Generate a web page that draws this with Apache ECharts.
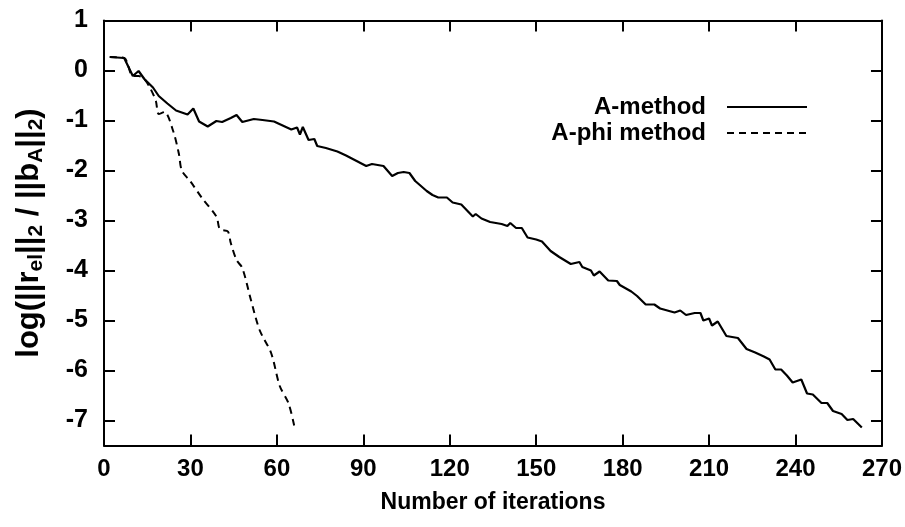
<!DOCTYPE html>
<html>
<head>
<meta charset="utf-8">
<script src="https://cdn.jsdelivr.net/npm/echarts@6/dist/echarts.min.js"></script>
<style>
html,body{margin:0;padding:0;background:#fff;}
#chart{width:905px;height:527px;}
</style>
</head>
<body>
<div id="chart"></div>
<script>
// Data
const xTicks = [0, 30, 60, 90, 120, 150, 180, 210, 240, 270];
const yTicks = [-7, -6, -5, -4, -3, -2, -1, 0, 1];

const aMethodX = [2, 7, 10, 12, 14, 17, 19, 22, 25, 29, 31, 33, 36, 39, 41, 44, 46, 48, 52, 55, 59, 62, 65, 67, 68, 69, 71, 73, 74, 77, 81, 84, 88, 91, 93, 97, 100, 102, 104, 106, 108, 112, 114, 116, 119, 121, 124, 128, 129, 131, 134, 138, 140, 141, 143, 145, 147, 150, 152, 155, 158, 162, 165, 166, 169, 170, 172, 175, 178, 179, 183, 185, 188, 191, 193, 198, 200, 202, 205, 207, 208, 210, 211, 213, 216, 220, 223, 226, 229, 231, 233, 235, 237, 239, 242, 244, 246, 249, 251, 253, 256, 258, 260, 263];
const aMethodY = [0.27, 0.25, -0.11, -0.01, -0.17, -0.34, -0.51, -0.66, -0.80, -0.88, -0.76, -1.02, -1.12, -1.01, -1.03, -0.95, -0.89, -1.03, -0.97, -0.99, -1.02, -1.10, -1.18, -1.14, -1.28, -1.13, -1.39, -1.37, -1.51, -1.55, -1.62, -1.70, -1.82, -1.91, -1.87, -1.91, -2.11, -2.05, -2.03, -2.05, -2.21, -2.41, -2.49, -2.54, -2.54, -2.64, -2.68, -2.92, -2.87, -2.96, -3.03, -3.07, -3.11, -3.05, -3.15, -3.15, -3.34, -3.38, -3.42, -3.61, -3.73, -3.87, -3.83, -3.93, -4.00, -4.10, -4.02, -4.20, -4.21, -4.29, -4.42, -4.51, -4.68, -4.68, -4.76, -4.84, -4.80, -4.89, -4.85, -4.85, -5.00, -4.96, -5.10, -5.02, -5.31, -5.35, -5.57, -5.64, -5.72, -5.78, -5.98, -5.98, -6.10, -6.24, -6.18, -6.46, -6.48, -6.65, -6.65, -6.81, -6.87, -6.99, -6.97, -7.14];

const aPhiX = [2, 7, 10, 12, 14, 16, 18, 19, 21, 24, 26, 27, 30, 34, 39, 40, 41, 43, 44, 46, 48, 51, 54, 58, 61, 64, 66];
const aPhiY = [0.27, 0.25, -0.11, -0.11, -0.17, -0.35, -0.61, -0.87, -0.83, -1.21, -1.67, -2.00, -2.22, -2.55, -2.92, -3.15, -3.19, -3.22, -3.45, -3.79, -3.95, -4.59, -5.19, -5.65, -6.31, -6.65, -7.10];

const seriesNames = ['A-method', 'A-phi method'];

const zip = (xs, ys) => xs.map((x, i) => [x, ys[i]]);

const FONT = 'Liberation Sans';
const axisLine = {show: true, onZero: false, lineStyle: {color: '#000', width: 2}};
const tick = {show: true, inside: true, length: 11, lineStyle: {color: '#000', width: 2}};
const legendText = {fontFamily: FONT, fontSize: 24, fontWeight: 'bold', color: '#000', padding: [0, 16, 0, 0]};
const legendItem = {color: 'rgba(0,0,0,0)', borderWidth: 0, opacity: 0};

const chart = echarts.init(document.getElementById('chart'), null, {renderer: 'canvas'});
chart.setOption({
  backgroundColor: '#fff',
  animation: false,
  grid: {left: 104, right: 21, top: 20.5, bottom: 81.5, containLabel: false},
  legend: [
    {
      data: [seriesNames[0]],
      right: 92, top: 90, align: 'right',
      itemWidth: 80, itemHeight: 20,
      itemStyle: legendItem,
      textStyle: legendText
    },
    {
      data: [seriesNames[1]],
      right: 92, top: 116, align: 'right',
      itemWidth: 80, itemHeight: 20,
      itemStyle: legendItem,
      textStyle: legendText
    }
  ],
  xAxis: [
    {
      type: 'value', min: 0, max: 270, interval: 30, position: 'bottom',
      name: 'Number of iterations', nameLocation: 'middle', nameGap: 46,
      nameTextStyle: {fontFamily: FONT, fontSize: 23, fontWeight: 'bold', color: '#000'},
      axisLine: axisLine, axisTick: tick,
      axisLabel: {fontFamily: FONT, fontSize: 24, fontWeight: 'bold', color: '#000', margin: 12,
        customValues: xTicks},
      splitLine: {show: false}
    },
    {
      type: 'value', min: 0, max: 270, interval: 30, position: 'top',
      axisLine: axisLine, axisTick: tick, axisLabel: {show: false}, splitLine: {show: false}
    }
  ],
  yAxis: [
    {
      type: 'value', min: -7.5, max: 1, position: 'left',
      name: 'log(||r{s|el}||{s|2} / ||b{s|A}||{s|2})', nameLocation: 'middle', nameGap: 57, nameRotate: 90,
      nameTextStyle: {fontFamily: FONT, fontSize: 31, fontWeight: 'bold', color: '#000', lineHeight: 36,
        rich: {s: {fontFamily: FONT, fontSize: 21, fontWeight: 'bold', color: '#000', verticalAlign: 'bottom', lineHeight: 36, padding: [13, 0, 0, 0]}}},
      axisLine: axisLine,
      axisTick: Object.assign({}, tick, {customValues: yTicks}),
      axisLabel: {fontFamily: FONT, fontSize: 25, fontWeight: 'bold', color: '#000', margin: 16, customValues: yTicks},
      splitLine: {show: false}
    },
    {
      type: 'value', min: -7.5, max: 1, position: 'right',
      axisLine: axisLine,
      axisTick: Object.assign({}, tick, {customValues: yTicks}),
      axisLabel: {show: false}, splitLine: {show: false}
    }
  ],
  series: [
    {
      name: seriesNames[0], type: 'line', xAxisIndex: 0, yAxisIndex: 0,
      data: zip(aMethodX, aMethodY), showSymbol: false, symbol: 'none',
      lineStyle: {color: '#000', width: 2.2, type: 'solid'}, itemStyle: {color: '#000'}
    },
    {
      name: seriesNames[1], type: 'line', xAxisIndex: 0, yAxisIndex: 0,
      data: zip(aPhiX, aPhiY), showSymbol: false, symbol: 'none', smooth: 0.3,
      lineStyle: {color: '#000', width: 2, type: [7, 5]}, itemStyle: {color: '#000'}
    }
  ]
});
</script>
</body>
</html>
